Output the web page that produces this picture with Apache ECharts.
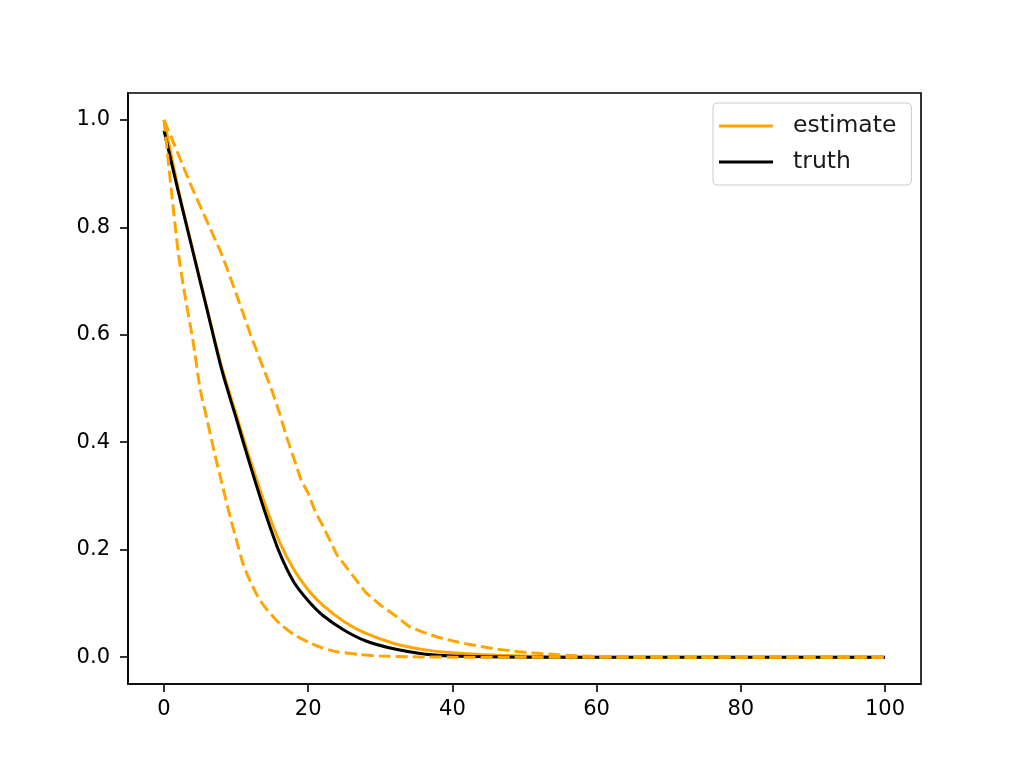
<!DOCTYPE html>
<html>
<head>
<meta charset="utf-8">
<script src="https://cdn.jsdelivr.net/npm/echarts@6/dist/echarts.min.js"></script>
<style>
html,body{margin:0;padding:0;background:#fff;}
#c{width:1024px;height:768px;}
</style>
</head>
<body>
<div id="c"></div>
<script>
// ---- data ----
const xTicks = [0, 20, 40, 60, 80, 100];
const yTicks = [0, 0.2, 0.4, 0.6, 0.8, 1.0];

const truthX = [0, 2, 4, 6, 8, 10, 12, 14, 16, 18, 20, 22, 25, 28, 32, 36, 40, 50, 60, 80, 100];
const truthY = [0.98, 0.865, 0.755, 0.645, 0.535, 0.445, 0.355, 0.27, 0.195, 0.14, 0.105, 0.078, 0.05, 0.03, 0.015, 0.006, 0.002, 0, 0, 0, 0];

const estX = [0, 2, 4, 6, 8, 10, 12, 14, 16, 18, 20, 22, 25, 28, 32, 36, 40, 45, 50, 60, 80, 100];
const estY = [1.0, 0.87, 0.757, 0.647, 0.54, 0.452, 0.365, 0.285, 0.215, 0.163, 0.125, 0.097, 0.066, 0.044, 0.025, 0.014, 0.008, 0.004, 0.002, 0, 0, 0];

const lowX = [0, 1, 2, 3, 4, 5, 6, 7, 8, 9, 10, 11, 12, 13, 14, 16, 18, 20, 22, 24, 27, 30, 35, 40, 100];
const lowY = [1.0, 0.87, 0.75, 0.665, 0.59, 0.5, 0.44, 0.38, 0.325, 0.27, 0.22, 0.172, 0.14, 0.113, 0.093, 0.063, 0.042, 0.028, 0.017, 0.01, 0.005, 0.002, 0.0005, 0, 0];

const upX = [0, 2, 4, 6, 7, 8, 10, 12, 14, 15, 16, 17, 18, 19, 20, 21, 22, 24, 26, 28, 30, 32, 34, 36, 38, 41, 46, 50, 55, 60, 65, 100];
const upY = [1.0, 0.935, 0.87, 0.81, 0.78, 0.75, 0.677, 0.6, 0.53, 0.495, 0.455, 0.41, 0.37, 0.33, 0.305, 0.27, 0.245, 0.19, 0.155, 0.12, 0.097, 0.078, 0.057, 0.046, 0.037, 0.027, 0.015, 0.009, 0.004, 0.001, 0, 0];

function zip(xs, ys) { return xs.map((x, i) => [x, ys[i]]); }

const ORANGE = '#FFA500';
const FONT = 'DejaVu Sans';

const chart = echarts.init(document.getElementById('c'), null, {renderer: 'canvas'});
chart.setOption({
  animation: false,
  backgroundColor: '#fff',
  grid: {
    left: 128, top: 93, right: 103, bottom: 84,
    show: true, borderColor: '#000', borderWidth: 1.6, backgroundColor: 'transparent'
  },
  xAxis: {
    type: 'value', min: -5, max: 105,
    axisLine: {show: true, onZero: false, lineStyle: {color: '#000', width: 1.6}},
    splitLine: {show: false},
    axisTick: {show: true, inside: false, customValues: xTicks, length: 8, lineStyle: {color: '#000', width: 1.6}},
    axisLabel: {customValues: xTicks, fontSize: 21, fontFamily: FONT, color: '#000', margin: 15}
  },
  yAxis: {
    type: 'value', min: -0.05, max: 1.05,
    axisLine: {show: true, onZero: false, lineStyle: {color: '#000', width: 1.6}},
    splitLine: {show: false},
    axisTick: {show: true, inside: false, customValues: yTicks, length: 8, lineStyle: {color: '#000', width: 1.6}},
    axisLabel: {customValues: yTicks, fontSize: 21, fontFamily: FONT, color: '#000', margin: 18,
      formatter: v => v.toFixed(1)}
  },
  legend: {
    orient: 'vertical', left: 713, top: 103,
    data: ['estimate', 'truth'],
    icon: 'rect', itemWidth: 54, itemHeight: 3, itemGap: 12,
    padding: [11, 15, 11, 6],
    borderColor: '#cccccc', borderWidth: 1, borderRadius: 4,
    backgroundColor: 'rgba(255,255,255,0.8)',
    textStyle: {fontSize: 23.5, fontFamily: FONT, color: '#1a1a1a', lineHeight: 24, padding: [0, 0, 0, 15]}
  },
  series: [
    {name: 'estimate', type: 'line', data: zip(estX, estY), symbol: 'none', smooth: 0.3,
      itemStyle: {color: ORANGE}, lineStyle: {color: ORANGE, width: 3}},
    {name: 'truth', type: 'line', data: zip(truthX, truthY), symbol: 'none', smooth: 0.3,
      itemStyle: {color: '#000'}, lineStyle: {color: '#000', width: 3}},
    {name: 'lower', type: 'line', data: zip(lowX, lowY), symbol: 'none', smooth: 0.2,
      itemStyle: {color: ORANGE}, lineStyle: {color: ORANGE, width: 3, type: [12, 5]}},
    {name: 'upper', type: 'line', data: zip(upX, upY), symbol: 'none',
      itemStyle: {color: ORANGE}, lineStyle: {color: ORANGE, width: 3, type: [12, 5]}}
  ]
});
</script>
</body>
</html>
